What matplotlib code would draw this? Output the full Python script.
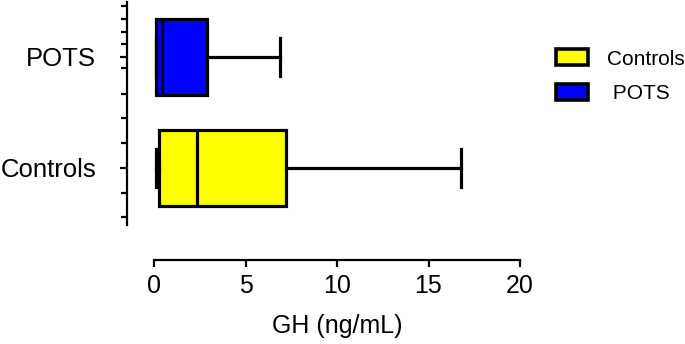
import numpy as np
import matplotlib.pyplot as plt
from matplotlib.patches import Patch

plt.rcParams['font.family'] = ['Liberation Sans', 'DejaVu Sans']

# Data, ng/mL
groups = ['Controls', 'POTS']
legend_labels = ['Controls', ' POTS']
colors = ['#ffff00', '#0000ff']
whislo = [0.1, 0.1]
q1 = [0.27, 0.1]
med = [2.33, 0.42]
q3 = [7.2, 2.9]
whishi = [16.8, 6.9]

stats = []
for i, g in enumerate(groups):
    stats.append(dict(label=g, whislo=whislo[i], q1=q1[i], med=med[i],
                      q3=q3[i], whishi=whishi[i], fliers=[]))

fig = plt.figure(figsize=(6.85, 3.44), dpi=100)
ax = fig.add_axes([154 / 685, 1 - 225 / 344, 366 / 685, 223 / 344])

lw = 2.3
bp = ax.bxp(stats, positions=[1, 2], widths=0.68, capwidths=0.35,
            orientation='horizontal', patch_artist=True, showfliers=False,
            boxprops=dict(linewidth=lw, edgecolor='black'),
            medianprops=dict(color='black', linewidth=lw),
            whiskerprops=dict(color='black', linewidth=lw),
            capprops=dict(color='black', linewidth=lw))
for patch, c in zip(bp['boxes'], colors):
    patch.set_facecolor(c)

ax.set_xlim(0, 20)
ax.set_ylim(0.486, 2.495)
ax.set_xticks([0, 5, 10, 15, 20])
ax.set_yticks([1, 2])
ax.set_yticklabels(groups)
ax.set_yticks([0.559, 0.775, 1.225, 1.45, 1.667, 1.901, 2.117, 2.225, 2.342, 2.459], minor=True)

for s in ['top', 'right']:
    ax.spines[s].set_visible(False)
ax.spines['left'].set_position(('outward', 19.5))
ax.spines['bottom'].set_position(('outward', 25))
ax.spines['left'].set_linewidth(1.6)
ax.spines['bottom'].set_linewidth(1.6)

ax.tick_params(axis='x', length=5, width=1.6, labelsize=18, pad=5)
ax.tick_params(axis='y', which='major', length=5, width=1.6, labelsize=18.5, pad=17)
ax.tick_params(axis='y', which='minor', length=4, width=1.6)

ax.set_xlabel('GH (ng/mL)', fontsize=18, labelpad=12)

handles = [Patch(facecolor=c, edgecolor='black', linewidth=2.6) for c in colors]
leg = ax.legend(handles, legend_labels, loc='upper left', bbox_to_anchor=(1.075, 0.825),
                frameon=False, fontsize=15, handlelength=1.55, handleheight=0.8,
                handletextpad=0.9, labelspacing=0.75, borderaxespad=0)

fig.savefig('out.png', dpi=100)
